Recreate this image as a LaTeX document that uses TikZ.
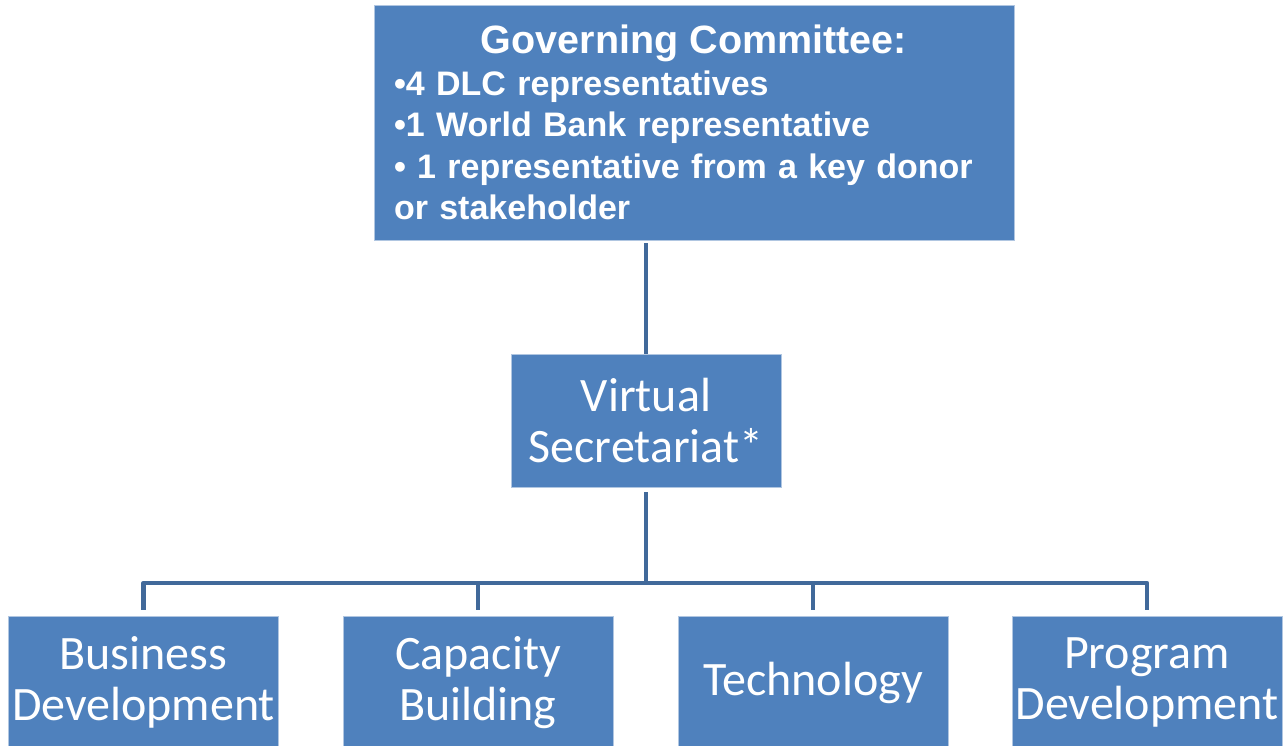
\documentclass[tikz,border=0pt]{standalone}
\usepackage{fontspec}
\setmainfont{Carlito}
\newfontfamily\arial{Liberation Sans}
\definecolor{boxblue}{HTML}{4F81BD}
\definecolor{linkblue}{HTML}{41699A}
\tikzset{
  box/.style={rectangle, fill=boxblue, draw=white!55!boxblue, line width=0.8pt, text=white, align=center},
  lowbox/.style={box, minimum width=270pt, minimum height=133pt, inner sep=0pt,
    font=\fontsize{48}{51}\selectfont},
  conn/.style={draw=linkblue, line width=4.5pt, line join=round}
}
\begin{document}
\begin{tikzpicture}[x=1pt,y=-1pt]
\useasboundingbox (0,0) rectangle (1284,746);
\clip (0,0) rectangle (1284,746);
\node[box, minimum width=640pt, minimum height=235pt, inner xsep=20pt, inner ysep=0pt,
  text width=600pt, align=left, font=\arial\bfseries\fontsize{34}{41.5}\selectfont]
  (gc) at (694,122.5)
  {\makebox[600pt][c]{\fontsize{39.5}{41.5}\selectfont Governing Committee:}\\
   •4 DLC representatives\\
   •1 World Bank representative\\
   • 1 representative from a key donor\\
   or stakeholder};
\node[lowbox] (vs) at (646,420.5) {Virtual\\Secretariat*};
\node[lowbox] (bd) at (143.5,682.5) {Business\\Development};
\node[lowbox] (cb) at (478,682.5) {Capacity\\Building};
\node[lowbox] (tc) at (813,682.5) {Technology};
\node[lowbox] (pd) at (1147,682.5) {Program\\Development};
\coordinate (hub) at (646,583);
\draw[conn, shorten <=3pt] (vs.north |- gc.south) -- (vs.north);
\draw[conn, shorten <=5pt] (vs.south) -- (hub);
\draw[conn, shorten <=6pt, shorten >=6pt] (bd.north) -- (bd.north |- hub) -- (pd.north |- hub) -- (pd.north);
\draw[conn, shorten >=6pt] (hub -| cb.north) -- (cb.north);
\draw[conn, shorten >=6pt] (hub -| tc.north) -- (tc.north);
\end{tikzpicture}
\end{document}
